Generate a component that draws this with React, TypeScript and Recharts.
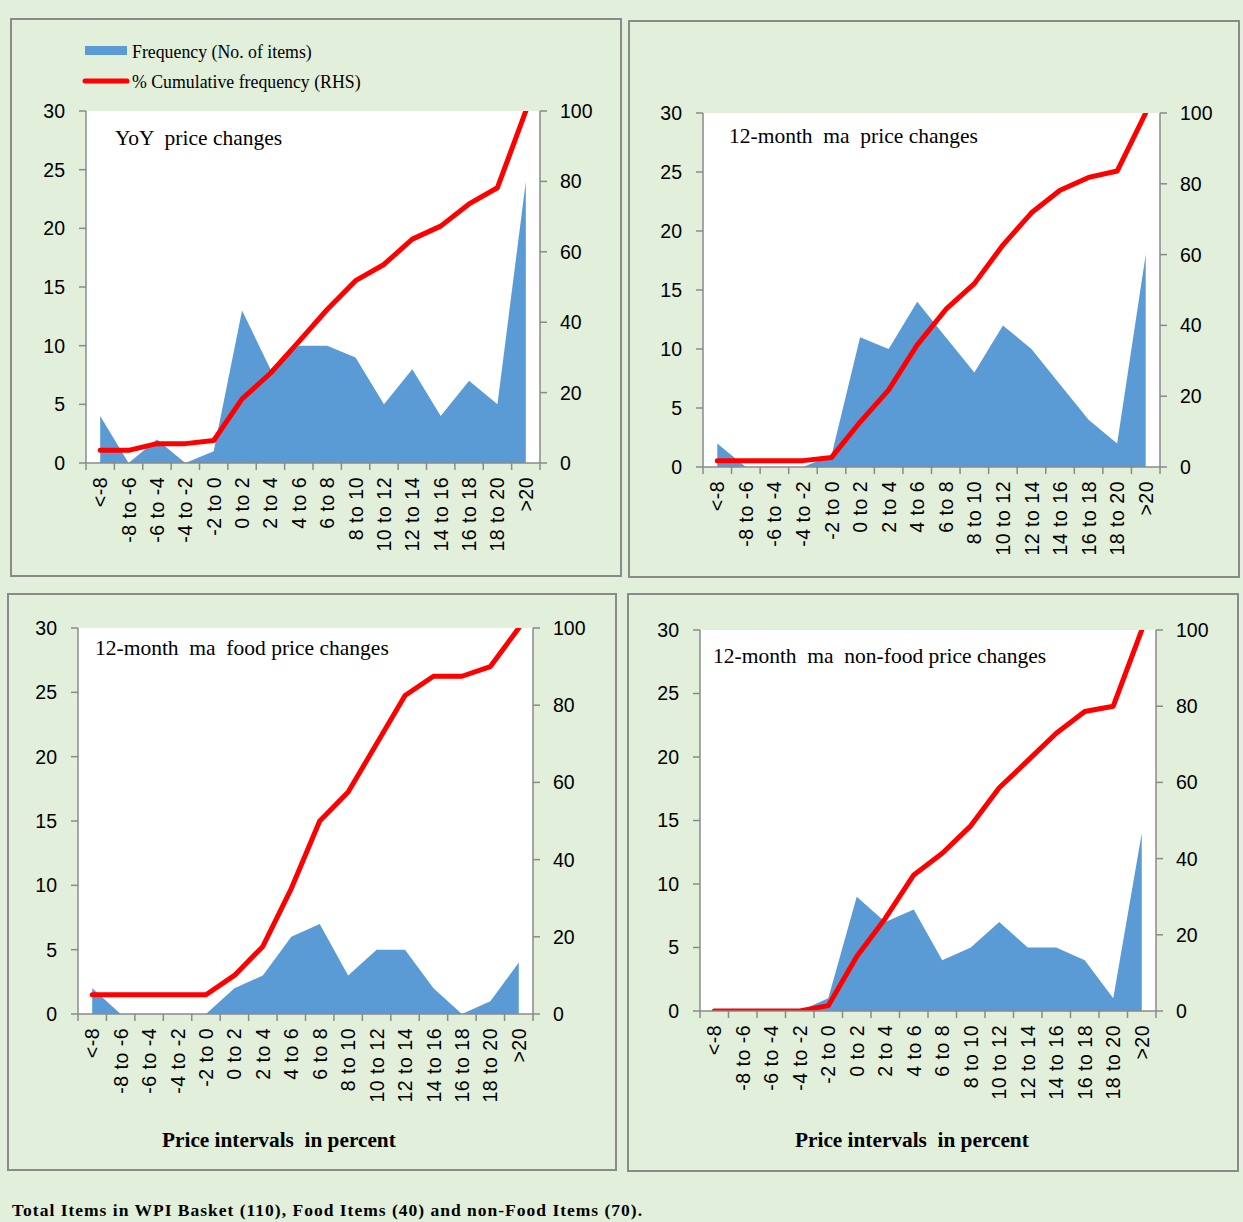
import React from 'react'
import { ComposedChart, Area, Line, XAxis, YAxis, CartesianGrid } from 'recharts'

const categories = ['<-8', '-8 to -6', '-6 to -4', '-4 to -2', '-2 to 0', '0 to 2', '2 to 4', '4 to 6', '6 to 8', '8 to 10', '10 to 12', '12 to 14', '14 to 16', '16 to 18', '18 to 20', '>20']

// YoY price changes (110 items)
const yoyFreq = [4, 0, 2, 0, 1, 13, 8, 10, 10, 9, 5, 8, 4, 7, 5, 24]
const yoyCum = [3.6, 3.6, 5.5, 5.5, 6.4, 18.2, 25.5, 34.5, 43.6, 51.8, 56.4, 63.6, 67.3, 73.6, 78.2, 100]

// 12-month ma price changes
const maFreq = [2, 0, 0, 0, 1, 11, 10, 14, 11, 8, 12, 10, 7, 4, 2, 18]
const maCum = [1.8, 1.8, 1.8, 1.8, 2.7, 12.7, 21.8, 34.5, 44.5, 51.8, 62.7, 71.8, 78.2, 81.8, 83.6, 100]

// food (40 items)
const foodFreq = [2, 0, 0, 0, 0, 2, 3, 6, 7, 3, 5, 5, 2, 0, 1, 4]
const foodCum = [5, 5, 5, 5, 5, 10, 17.5, 32.5, 50, 57.5, 70, 82.5, 87.5, 87.5, 90, 100]

// non-food (70 items)
const nonFoodFreq = [0, 0, 0, 0, 1, 9, 7, 8, 4, 5, 7, 5, 5, 4, 1, 14]
const nonFoodCum = [0, 0, 0, 0, 1.4, 14.3, 24.3, 35.7, 41.4, 48.6, 58.6, 65.7, 72.9, 78.6, 80, 100]

const leftTicks = [0, 5, 10, 15, 20, 25, 30]
const rightTicks = [0, 20, 40, 60, 80, 100]

const BG = '#e2efda'
const AXIS = '#8a8a8a'
const BLUE = '#5b9bd5'
const RED = '#ff0000'
const SANS = '"Liberation Sans", Arial, sans-serif'
const SERIF = '"Liberation Serif", "Times New Roman", serif'

type Box = { x: number; y: number; w: number; h: number }
type Plot = { l: number; t: number; r: number; b: number }

const panels = [
  { box: { x: 10, y: 18, w: 612, h: 559 }, plot: { l: 86, t: 111, r: 540, b: 463 }, freq: yoyFreq, cum: yoyCum, title: 'YoY  price changes', tx: 115, ty: 145 },
  { box: { x: 628, y: 20, w: 612, h: 558 }, plot: { l: 703, t: 113, r: 1160, b: 467 }, freq: maFreq, cum: maCum, title: '12-month  ma  price changes', tx: 729, ty: 143 },
  { box: { x: 7, y: 593, w: 610, h: 578 }, plot: { l: 78, t: 628, r: 533, b: 1014 }, freq: foodFreq, cum: foodCum, title: '12-month  ma  food price changes', tx: 95, ty: 655 },
  { box: { x: 627, y: 593, w: 612, h: 579 }, plot: { l: 700, t: 630, r: 1156, b: 1011 }, freq: nonFoodFreq, cum: nonFoodCum, title: '12-month  ma  non-food price changes', tx: 713, ty: 663 },
]

function Panel({ box, plot, freq, cum }: { box: Box; plot: Plot; freq: number[]; cum: number[] }) {
  const data = categories.map((c, i) => ({ cat: c, freq: freq[i], cum: cum[i] }))
  const band = (plot.r - plot.l) / categories.length

  const renderXTick = (props: any) => {
    const { x, y, payload, index } = props
    return (
      <g>
        <line x1={x - band / 2} x2={x - band / 2} y1={y} y2={y + 7} stroke={AXIS} strokeWidth={1.5} />
        {index === categories.length - 1 && (
          <line x1={x + band / 2} x2={x + band / 2} y1={y} y2={y + 7} stroke={AXIS} strokeWidth={1.5} />
        )}
        <text
          transform={`translate(${x},${y}) rotate(-90)`}
          x={-14}
          dy="0.36em"
          textAnchor="end"
          fill="#000"
          fontSize={19.5}
          letterSpacing={0.5}
          fontFamily={SANS}
        >
          {payload.value}
        </text>
      </g>
    )
  }

  const tickStyle = { fill: '#000', fontSize: 19.5, fontFamily: SANS }

  return (
    <div style={{ position: 'absolute', left: box.x, top: box.y, width: box.w, height: box.h }}>
      <ComposedChart
        width={box.w}
        height={box.h}
        data={data}
        margin={{ top: plot.t - box.y, right: 0, bottom: 0, left: 0 }}
      >
        <CartesianGrid horizontal={false} vertical={false} fill="#ffffff" />
        <XAxis
          dataKey="cat"
          interval={0}
          padding={{ left: band / 2, right: band / 2 }}
          height={box.y + box.h - plot.b}
          tickLine={false}
          tickSize={0}
          tickMargin={0}
          axisLine={{ stroke: AXIS, strokeWidth: 1.5 }}
          tick={renderXTick}
        />
        <YAxis
          yAxisId="l"
          domain={[0, 30]}
          ticks={leftTicks}
          width={plot.l - box.x}
          tickSize={7}
          tickMargin={14}
          axisLine={{ stroke: AXIS, strokeWidth: 1.5 }}
          tickLine={{ stroke: AXIS, strokeWidth: 1.5 }}
          tick={tickStyle}
        />
        <YAxis
          yAxisId="r"
          orientation="right"
          domain={[0, 100]}
          ticks={rightTicks}
          allowDataOverflow
          width={box.x + box.w - plot.r}
          tickSize={7}
          tickMargin={13}
          axisLine={{ stroke: AXIS, strokeWidth: 1.5 }}
          tickLine={{ stroke: AXIS, strokeWidth: 1.5 }}
          tick={tickStyle}
        />
        <Area
          yAxisId="l"
          dataKey="freq"
          type="linear"
          fill={BLUE}
          fillOpacity={1}
          stroke="none"
          isAnimationActive={false}
        />
        <Line
          yAxisId="r"
          dataKey="cum"
          type="linear"
          stroke={RED}
          strokeWidth={5}
          strokeLinejoin="round"
          strokeLinecap="round"
          dot={false}
          isAnimationActive={false}
        />
      </ComposedChart>
    </div>
  )
}

export default function App() {
  return (
    <div style={{ position: 'absolute', left: 0, top: 0, width: 1243, height: 1222, background: BG, overflow: 'hidden' }}>
      {panels.map((p, i) => (
        <div
          key={'b' + i}
          style={{
            position: 'absolute',
            left: p.box.x,
            top: p.box.y,
            width: p.box.w,
            height: p.box.h,
            border: `2px solid ${AXIS}`,
            boxSizing: 'border-box',
          }}
        />
      ))}
      {panels.map((p, i) => (
        <Panel key={i} box={p.box} plot={p.plot} freq={p.freq} cum={p.cum} />
      ))}
      <svg width={1243} height={1222} style={{ position: 'absolute', left: 0, top: 0, pointerEvents: 'none' }}>
        {panels.map((p, i) => (
          <text key={i} x={p.tx} y={p.ty} fontFamily={SERIF} fontSize={21.5} fill="#000" style={{ whiteSpace: 'pre' }}>
            {p.title}
          </text>
        ))}
        <rect x={85} y={46} width={42} height={9} fill={BLUE} />
        <text x={132} y={58} fontFamily={SERIF} fontSize={17.8} fill="#000">Frequency (No. of items)</text>
        <line x1={85} x2={127} y1={81} y2={81} stroke={RED} strokeWidth={5} strokeLinecap="round" />
        <text x={132} y={88} fontFamily={SERIF} fontSize={17.8} fill="#000">% Cumulative frequency (RHS)</text>
        <text x={162} y={1147} fontFamily={SERIF} fontSize={21.3} fontWeight="bold" fill="#000" style={{ whiteSpace: 'pre' }}>Price intervals  in percent</text>
        <text x={795} y={1147} fontFamily={SERIF} fontSize={21.3} fontWeight="bold" fill="#000" style={{ whiteSpace: 'pre' }}>Price intervals  in percent</text>
        <text x={12} y={1216} fontFamily={SERIF} fontSize={17.5} fontWeight="bold" fill="#000" letterSpacing={1.0}>
          Total Items in WPI Basket (110), Food Items (40) and non-Food Items (70).
        </text>
      </svg>
    </div>
  )
}
